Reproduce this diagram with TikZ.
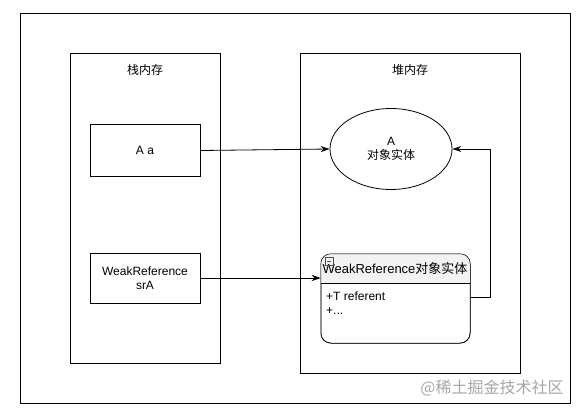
\documentclass[tikz,border=0pt]{standalone}
\usepackage{fontspec}
\setmainfont{Liberation Sans}
\newfontfamily\cjk{Noto Sans CJK SC}
\usetikzlibrary{arrows.meta,shapes.geometric}

\begin{document}
\begin{tikzpicture}
[
	x=1pt,y=-1pt,
	every node/.style={font=\fontsize{12}{14}\selectfont},
	frame/.style={draw,line width=0.9pt},
	varbox/.style={draw,line width=0.8pt,minimum width=110pt,minimum height=52pt,inner sep=0pt,align=center},
	ref/.style={-{Stealth[length=9pt,width=6pt]},line width=0.8pt}
]

	\useasboundingbox (0,0) rectangle (587,413);

	% frames
	\draw[frame] (20,13) rectangle (570,403);
	\draw[frame] (70,53) rectangle (220,363);
	\draw[frame] (300,53) rectangle (520,373);
	\node at (145,70) (stacklbl) {\cjk 栈内存};
	\node at (410,70) (heaplbl) {\cjk 堆内存};

	% stack variables
	\node[varbox] at (145,150.5) (aa) {A a};
	\node[varbox,minimum height=50pt] at (145,278) (sra) {WeakReference\\srA};

	% heap objects
	\node[draw,ellipse,line width=0.8pt,minimum width=122pt,minimum height=81pt,inner sep=0pt,align=center]
	  at (391,149) (objA) {A\\{\cjk 对象实体}};
	\node[draw,rounded corners=10pt,line width=0.5pt,minimum width=149pt,minimum height=89pt,inner sep=0pt]
	  at (395.5,298.5) (wref) {};
	\begin{scope}
		\clip[rounded corners=10pt] (wref.north west) rectangle (wref.south east);
		\fill[black!5] (wref.north west) rectangle (470,283);
	\end{scope}
	\draw[rounded corners=10pt,line width=0.5pt] (wref.north west) rectangle (wref.south east);
	\draw[line width=0.5pt] (wref.west |- 0,283) -- (wref.east |- 0,283);
	\node[font=\fontsize{13}{15}\selectfont] at (395,269) (wreftitle) {WeakReference{\cjk 对象实体}};
	\draw[black!70,line width=0.5pt] (325,257) rectangle (333,265);
	\draw[black!70,line width=0.5pt] (327,261) -- (331,261);
	\node[anchor=north west,align=left,inner sep=0pt] at (326,292) (members) {+T referent\\+...};

	% references
	\draw[ref] (aa.east) -- (objA.west);
	\draw[ref] (sra.east) -- (sra.east -| wref.west);
	\coordinate (bend) at (490,149);
	\draw[ref] (470,297) -| (bend) -- (objA.east);

	% watermark
	\node[text=black!35,font=\fontsize{16}{18}\selectfont] at (492,388) (mark) {\cjk @稀土掘金技术社区};

\end{tikzpicture}
\end{document}
